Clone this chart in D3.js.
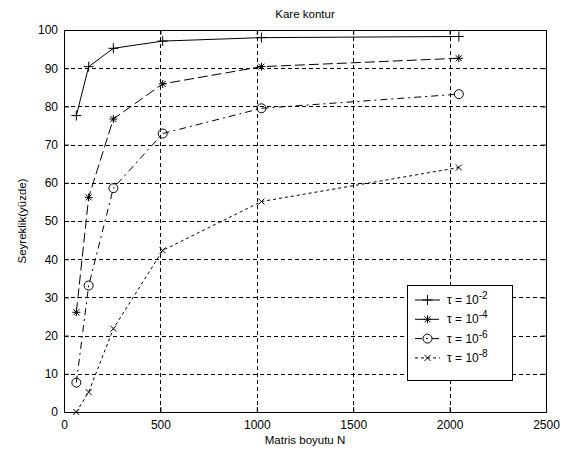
<!DOCTYPE html>
<html>
<head>
<meta charset="utf-8">
<script src="https://cdn.jsdelivr.net/npm/d3@7"></script>
<style>
  body { margin: 0; background: #fff; }
  svg { font-family: "Liberation Sans", Arial, sans-serif; }
</style>
</head>
<body>
<div class="chart-container"></div>
<script>
//! DATA
const sizes = [64, 128, 256, 512, 1024, 2048];
const tau2 = [77.6, 90.4, 95.2, 97.1, 98.0, 98.3];
const tau4 = [26.1, 56.2, 76.7, 85.9, 90.4, 92.6];
const tau6 = [7.7, 33.1, 58.6, 72.9, 79.5, 83.2];
const tau8 = [0, 5.2, 21.8, 42.3, 55.1, 64.0];
const xTicks = [0, 500, 1000, 1500, 2000, 2500];
const yTicks = [0, 10, 20, 30, 40, 50, 60, 70, 80, 90, 100];
const legendExp = ['-2', '-4', '-6', '-8'];

//! CONSTS
const WIDTH = 569;
const HEIGHT = 454;
const M = { left: 64, right: 23, top: 30, bottom: 42 };

const svg = d3.select('.chart-container')
  .append('svg')
  .attr('width', WIDTH)
  .attr('height', HEIGHT);

const x = d3.scaleLinear().domain([0, 2500]).range([M.left, WIDTH - M.right]);
const y = d3.scaleLinear().domain([0, 100]).range([HEIGHT - M.bottom, M.top]);

// grid
const grid = svg.append('g').attr('stroke', '#000').attr('stroke-dasharray', '4,3').attr('stroke-width', 1);
grid.selectAll('.gx')
  .data(xTicks.slice(1, -1))
  .enter().append('line')
  .attr('x1', d => Math.round(x(d)) + .5).attr('x2', d => Math.round(x(d)) + .5)
  .attr('y1', y(0)).attr('y2', y(100));
grid.selectAll('.gy')
  .data(yTicks.slice(1, -1))
  .enter().append('line')
  .attr('y1', d => Math.round(y(d)) + .5).attr('y2', d => Math.round(y(d)) + .5)
  .attr('x1', x(0)).attr('x2', x(2500));

// axes (MATLAB box with inward ticks)
const axB = d3.axisBottom(x).tickValues(xTicks).tickSize(-5).tickPadding(8).tickFormat(d3.format('d'));
const axT = d3.axisTop(x).tickValues(xTicks).tickSize(-5).tickFormat('');
const axL = d3.axisLeft(y).tickValues(yTicks).tickSize(-5).tickPadding(6).tickFormat(d3.format('d'));
const axR = d3.axisRight(y).tickValues(yTicks).tickSize(-5).tickFormat('');

[[axB, `translate(0,${y(0)})`], [axT, `translate(0,${y(100)})`],
 [axL, `translate(${x(0)},0)`], [axR, `translate(${x(2500)},0)`]].forEach(([ax, t]) => {
  const g = svg.append('g').attr('transform', t).call(ax);
  g.select('.domain').attr('stroke', '#000');
  g.selectAll('.tick line').attr('stroke', '#000');
  g.selectAll('text').attr('fill', '#000').style('font-size', '12px');
});

// series
const series = [
  { vals: tau2, dash: null, marker: 'plus' },
  { vals: tau4, dash: '10,4', marker: 'star' },
  { vals: tau6, dash: '7,4,2,4', marker: 'circle' },
  { vals: tau8, dash: '3,3', marker: 'cross' }
];

const line = d3.line().x(d => x(d[0])).y(d => y(d[1]));

const drawMarker = (g, type, cx, cy) => {
  if (type === 'plus') {
    g.append('path').attr('d', `M${cx - 5},${cy}H${cx + 5}M${cx},${cy - 5}V${cy + 5}`);
  } else if (type === 'star') {
    g.append('path').attr('d', `M${cx - 4},${cy}H${cx + 4}M${cx},${cy - 4}V${cy + 4}M${cx - 3},${cy - 3}L${cx + 3},${cy + 3}M${cx - 3},${cy + 3}L${cx + 3},${cy - 3}`);
  } else if (type === 'circle') {
    g.append('circle').attr('cx', cx).attr('cy', cy).attr('r', 4.5).attr('fill', 'none');
  } else {
    g.append('path').attr('d', `M${cx - 3},${cy - 3}L${cx + 3},${cy + 3}M${cx - 3},${cy + 3}L${cx + 3},${cy - 3}`);
  }
};

series.forEach(s => {
  const pts = sizes.map((d, i) => [d, s.vals[i]]);
  svg.append('path')
    .datum(pts)
    .attr('d', line)
    .attr('fill', 'none')
    .attr('stroke', '#000')
    .attr('stroke-width', 1)
    .attr('stroke-dasharray', s.dash);
  const mg = svg.append('g').attr('stroke', '#000').attr('stroke-width', 1).attr('fill', 'none');
  pts.forEach(p => drawMarker(mg, s.marker, x(p[0]), y(p[1])));
});

// title & labels
svg.append('text')
  .attr('x', (x(0) + x(2500)) / 2).attr('y', 18)
  .attr('text-anchor', 'middle').style('font-size', '11.5px')
  .text('Kare kontur');
svg.append('text')
  .attr('x', (x(0) + x(2500)) / 2).attr('y', 444)
  .attr('text-anchor', 'middle').style('font-size', '11.5px')
  .text('Matris boyutu N');
svg.append('text')
  .attr('transform', `translate(26,${(y(0) + y(100)) / 2}) rotate(-90)`)
  .attr('text-anchor', 'middle').style('font-size', '11.5px')
  .text('Seyreklik(yüzde)');

// legend
const legend = svg.append('g').attr('id', 'legend');
legend.append('rect')
  .attr('x', 407.5).attr('y', 285.5).attr('width', 105).attr('height', 95)
  .attr('fill', '#fff').attr('stroke', '#000');

series.forEach((s, i) => {
  const ly = 300 + i * 19.3;
  const row = legend.append('g').attr('stroke', '#000').attr('fill', 'none');
  row.append('line')
    .attr('x1', 415).attr('x2', 440).attr('y1', ly).attr('y2', ly)
    .attr('stroke-dasharray', s.dash);
  drawMarker(row, s.marker, 427.5, ly);
  const t = legend.append('text')
    .attr('x', 447).attr('y', ly + 4).style('font-size', '12px');
  t.append('tspan').text('τ = 10');
  t.append('tspan').attr('dy', -5).style('font-size', '10px').text(legendExp[i]);
});
</script>
</body>
</html>
